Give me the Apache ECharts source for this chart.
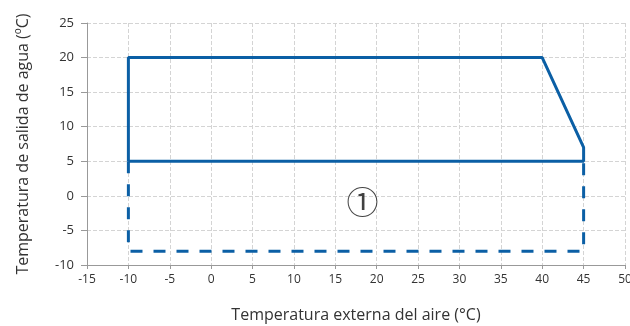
<!DOCTYPE html>
<html>
<head>
<meta charset="utf-8">
<script src="https://cdn.jsdelivr.net/npm/echarts@6/dist/echarts.min.js"></script>
<style>
  html, body { margin: 0; padding: 0; background: #fff; }
  #chart { width: 630px; height: 326px; }
</style>
</head>
<body>
<div id="chart"></div>
<script type="text/javascript">
	// datos del rango de funcionamiento
	var rangoX = [-10, -10, 40, 45, 45, -10];
	var rangoY = [5, 20, 20, 7, 5, 5];
	var extX = [-10, -10, 45, 45];
	var extY = [5, -8, -8, 5];
	var etiquetaPos = [18.3, -0.9];
	var etiquetaTxt = '①';

	function pares(xs, ys) {
		var out = [];
		for (var i = 0; i < xs.length; i++) out.push([xs[i], ys[i]]);
		return out;
	}

	var azul = '#0b5fa5';
	var myChart = echarts.init(document.getElementById('chart'));
	var option = {
		animation: false,
		textStyle: { fontFamily: 'Open Sans, Noto Sans, sans-serif' },
		grid: { left: 87, right: 5, top: 23, bottom: 61, containLabel: false, outerBoundsMode: 'none' },
		xAxis: {
			type: 'value', min: -15, max: 50, interval: 5,
			name: 'Temperatura externa del aire (°C)',
			nameLocation: 'middle', nameGap: 42,
			nameTextStyle: { fontSize: 16, color: '#333' },
			axisLine: { onZero: false, lineStyle: { color: '#999', width: 1 } },
			axisTick: { show: true, length: 4, lineStyle: { color: '#999' } },
			axisLabel: { fontSize: 12, color: '#333', margin: 9 },
			splitLine: { lineStyle: { color: '#d4d4d4', type: 'dashed' } }
		},
		yAxis: {
			type: 'value', min: -10, max: 25, interval: 5,
			name: 'Temperatura de salida de agua (ºC)',
			nameLocation: 'middle', nameGap: 56, nameRotate: 90,
			nameTextStyle: { fontSize: 16, color: '#333' },
			axisLine: { show: true, onZero: false, lineStyle: { color: '#999', width: 1 } },
			axisTick: { show: true, length: 6, lineStyle: { color: '#999' } },
			axisLabel: { fontSize: 13, color: '#333', margin: 13 },
			splitLine: { lineStyle: { color: '#d4d4d4', type: 'dashed' } }
		},
		series: [
			{
				type: 'line', data: pares(extX, extY), symbol: 'none',
				lineStyle: { color: azul, width: 3, type: [12, 11] }, z: 2
			},
			{
				type: 'line', data: pares(rangoX, rangoY), symbol: 'none',
				lineStyle: { color: azul, width: 3 }, z: 3
			},
			{
				type: 'scatter', data: [etiquetaPos], symbolSize: 0,
				label: {
					show: true, position: 'inside', formatter: etiquetaTxt,
					fontSize: 32, color: '#111', fontFamily: 'Noto Sans CJK JP'
				}
			}
		]
	};
	myChart.setOption(option);
</script>
</body>
</html>
